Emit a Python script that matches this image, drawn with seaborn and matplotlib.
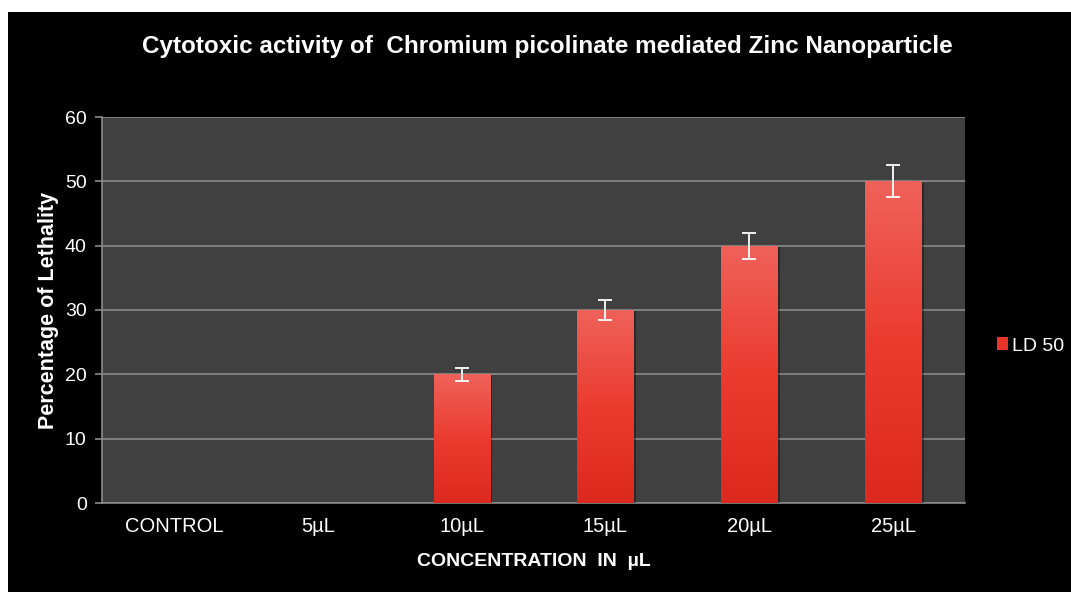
import numpy as np
import pandas as pd
import matplotlib
matplotlib.use("Agg")
import matplotlib.pyplot as plt
import matplotlib.patheffects as pe
from matplotlib.colors import LinearSegmentedColormap
from matplotlib.patches import Rectangle, Patch
import seaborn as sns

concentrations = ["CONTROL", "5\u00b5L", "10\u00b5L", "15\u00b5L", "20\u00b5L", "25\u00b5L"]
lethality = [0, 0, 20, 30, 40, 50]
errors = [np.nan, np.nan, 1.0, 1.5, 2.0, 2.5]

df = pd.DataFrame({"conc": concentrations, "ld50": lethality})

sns.set_theme(style="dark")
plt.rcParams["font.family"] = ["Liberation Sans", "DejaVu Sans"]

fig = plt.figure(figsize=(10.71, 5.92), dpi=100)
fig.patch.set_facecolor("white")
fig.add_artist(Rectangle((8 / 1071, 0), 1 - 8 / 1071, 580 / 592,
                         transform=fig.transFigure, facecolor="black",
                         edgecolor="none", zorder=0))

ax = fig.add_axes([102 / 1071, 89 / 592, 863 / 1071, 386 / 592])
ax.set_facecolor("#404040")

sns.barplot(data=df, x="conc", y="ld50", color="#e8352a", width=0.39,
            ax=ax, zorder=3, linewidth=0)

# gradient fill on each bar (light top, deep red bottom)
cmap = LinearSegmentedColormap.from_list("bar", ["#dc291d", "#eb3b2f", "#ef625a"])
grad = np.linspace(0, 1, 256).reshape(-1, 1)
for p in ax.patches:
    h = p.get_height()
    if h <= 0:
        p.set_visible(False)
        continue
    p.set_path_effects([pe.SimplePatchShadow(offset=(2, -1), shadow_rgbFace="black", alpha=0.35),
                        pe.Normal()])
    x0 = p.get_x()
    im = ax.imshow(grad, cmap=cmap, aspect="auto", origin="lower",
                   extent=[x0, x0 + p.get_width(), 0, h], zorder=4)
    im.set_clip_path(p)

ax.errorbar(x=np.arange(len(concentrations)), y=lethality, yerr=errors,
            fmt="none", ecolor="white", elinewidth=1.3, capsize=5,
            capthick=1.3, zorder=6)

ax.set_xlim(-0.5, len(concentrations) - 0.5)
ax.set_ylim(0, 60)
ax.set_yticks(range(0, 61, 10))
ax.yaxis.grid(True, color="#8a8a8a", linewidth=1.2, zorder=1)
ax.xaxis.grid(False)
ax.set_axisbelow(True)

for side in ["top", "right"]:
    ax.spines[side].set_visible(False)
for side in ["left", "bottom"]:
    ax.spines[side].set_visible(True)
    ax.spines[side].set_color("#8a8a8a")
    ax.spines[side].set_linewidth(1.2)

ax.tick_params(axis="y", colors="#8a8a8a", labelcolor="white", length=5,
               width=1.2, direction="out", left=True, labelsize=14, pad=6)
ax.tick_params(axis="x", length=0, labelcolor="white", labelsize=14.5, pad=10)

ax.set_xlabel("CONCENTRATION  IN  \u00b5L", color="white", fontsize=14,
              fontweight="bold", labelpad=12)
ax.set_ylabel("Percentage of Lethality", color="white", fontsize=15.5,
              fontweight="bold", labelpad=4)

fig.text(547 / 1071, 1 - 46 / 592,
         "Cytotoxic activity of  Chromium picolinate mediated Zinc Nanoparticle",
         color="white", fontsize=17.5, fontweight="bold", ha="center", va="center")

handle = Patch(facecolor="#e8352a", edgecolor="none")
fig.legend(handles=[handle], labels=["LD 50"], loc="center left",
           bbox_to_anchor=(979 / 1071, 1 - 346 / 592), frameon=False,
           labelcolor="white", fontsize=14, handlelength=0.6, handleheight=0.6,
           handletextpad=0.2)

fig.savefig("out.png", dpi=100, facecolor=fig.get_facecolor())
plt.close(fig)
